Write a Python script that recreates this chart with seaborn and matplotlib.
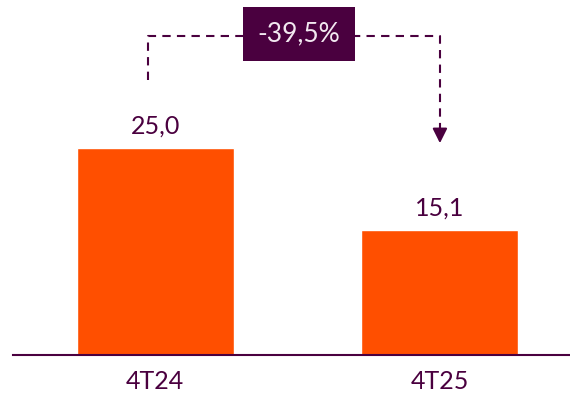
import matplotlib
matplotlib.use("Agg")
import matplotlib.pyplot as plt
import seaborn as sns
import pandas as pd

categories = ["4T24", "4T25"]
values = [25.0, 15.1]
value_labels = ["25,0", "15,1"]
change_label = "-39,5%"

BAR = "#FF4F00"
PURPLE = "#4A003F"

sns.set_theme(style="white")
plt.rcParams["font.family"] = ["Lato", "DejaVu Sans"]

fig = plt.figure(figsize=(5.70, 3.94), dpi=100)
ax = fig.add_axes([13 / 570, 39 / 394, 557 / 570, 355 / 394])

df = pd.DataFrame({"cat": categories, "val": values})
sns.barplot(data=df, x="cat", y="val", color=BAR, saturation=1, width=0.552, ax=ax)

ax.set_xlim(-0.5, 1.457)
ax.set_ylim(0, 42.9)

for i, (v, lab) in enumerate(zip(values, value_labels)):
    ax.text(i, v + 1.3, lab, ha="center", va="bottom", fontsize=18, color=PURPLE)

# dashed connector
y_top = 38.5
y_start = values[0] + 8.2
tip = values[1] + 10.5
x_left = -0.025
ax.plot([x_left, x_left, 1, 1], [y_start, y_top, y_top, tip + 1.0], ls=(0, (4, 3)),
        color=PURPLE, lw=1.5, zorder=3)
ax.annotate("", xy=(1, tip), xytext=(1, tip + 1.9),
            arrowprops=dict(arrowstyle="-|>", color=PURPLE, lw=1.5,
                            mutation_scale=22, shrinkA=0, shrinkB=0), zorder=4)
ax.text(0.504, 38.8, change_label, ha="center", va="center", fontsize=19,
        color="#F2E8F0", zorder=5,
        bbox=dict(boxstyle="square,pad=0.55", fc=PURPLE, ec="none"))

for s in ["top", "right", "left"]:
    ax.spines[s].set_visible(False)
ax.spines["bottom"].set_color(PURPLE)
ax.spines["bottom"].set_linewidth(1.5)
ax.set_yticks([])
ax.set_xlabel("")
ax.set_ylabel("")
ax.tick_params(axis="x", length=0, pad=11, labelsize=18, labelcolor=PURPLE)

fig.savefig("out.png", dpi=100)
